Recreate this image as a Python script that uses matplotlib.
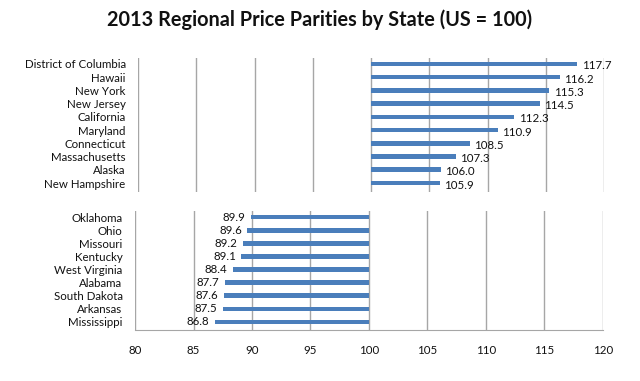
import matplotlib
matplotlib.use("Agg")
import matplotlib.pyplot as plt

top_states = ["District of Columbia", "Hawaii", "New York", "New Jersey", "California",
              "Maryland", "Connecticut", "Massachusetts", "Alaska", "New Hampshire"]
top_values = [117.7, 116.2, 115.3, 114.5, 112.3, 110.9, 108.5, 107.3, 106.0, 105.9]

bottom_states = ["Oklahoma", "Ohio", "Missouri", "Kentucky", "West Virginia",
                 "Alabama", "South Dakota", "Arkansas", "Mississippi"]
bottom_values = [89.9, 89.6, 89.2, 89.1, 88.4, 87.7, 87.6, 87.5, 86.8]

xticks = [80, 85, 90, 95, 100, 105, 110, 115, 120]
baseline = 100

plt.rcParams['font.family'] = ['Lato', 'DejaVu Sans']
bar_color = '#4A7EBB'
grid_color = '#A6A6A6'
text_color = '#111111'
fs = 8.3

fig = plt.figure(figsize=(6.4, 3.81), dpi=100)
ax1 = fig.add_axes([0.216, 0.496, 0.728, 0.352])
ax2 = fig.add_axes([0.211, 0.134, 0.731, 0.312])

for ax, states, vals, ylim in [(ax1, top_states, top_values, (9.68, -0.45)),
                               (ax2, bottom_states, bottom_values, (8.61, -0.46))]:
    ypos = list(range(len(states)))
    widths = [v - baseline for v in vals]
    ax.barh(ypos, widths, left=baseline, height=0.35, color=bar_color, zorder=3)
    ax.set_xlim(80, 120)
    ax.set_ylim(*ylim)
    ax.set_yticks(ypos)
    ax.set_yticklabels(states, fontsize=fs, color=text_color)
    ax.tick_params(axis='y', length=0, pad=9)
    ax.set_xticks(xticks)
    for x in xticks:
        ax.axvline(x, color=grid_color, lw=1, zorder=1)
    for s in ax.spines.values():
        s.set_visible(False)
    for y, v in zip(ypos, vals):
        if v >= baseline:
            ax.annotate(f"{v:.1f}", (v, y), xytext=(3, -1.5), textcoords='offset points',
                        ha='left', va='center', fontsize=fs, color=text_color)
        else:
            ax.annotate(f"{v:.1f}", (v, y), xytext=(-4, 0), textcoords='offset points',
                        ha='right', va='center', fontsize=fs, color=text_color)

ax1.tick_params(axis='x', length=0, labelbottom=False)
ax2.spines['bottom'].set_visible(True)
ax2.spines['bottom'].set_color(grid_color)
ax2.tick_params(axis='x', length=0, pad=11, labelsize=fs, colors=text_color)

fig.suptitle("2013 Regional Price Parities by State (US = 100)", x=0.50, y=0.975,
             fontsize=14.3, fontweight='bold', color=text_color)

fig.savefig("out.png", dpi=100)
